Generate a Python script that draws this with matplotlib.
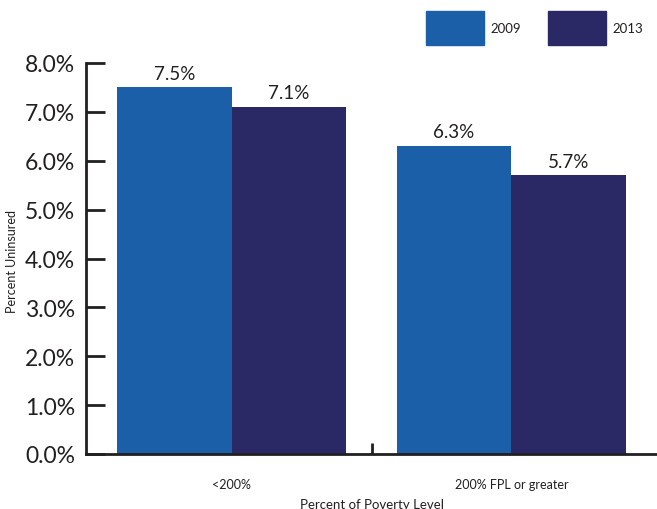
import matplotlib.pyplot as plt
import numpy as np

categories = ["<200%", "200% FPL or greater"]
years = ["2009", "2013"]
uninsured_2009 = [7.5, 6.3]
uninsured_2013 = [7.1, 5.7]
value_labels_2009 = ["7.5%", "6.3%"]
value_labels_2013 = ["7.1%", "5.7%"]
y_ticks = [0, 1, 2, 3, 4, 5, 6, 7, 8]
y_tick_labels = ["0.0%", "1.0%", "2.0%", "3.0%", "4.0%", "5.0%", "6.0%", "7.0%", "8.0%"]

c2009 = "#1a5fa8"
c2013 = "#2a2966"
dark = "#231f20"

plt.rcParams["font.family"] = ["Lato", "DejaVu Sans"]

fig = plt.figure(figsize=(6.57, 5.10), dpi=100)
ax = fig.add_axes([86 / 657, 55 / 510, 571 / 657, 391 / 510])

x = np.arange(len(categories))
w = 0.41
b1 = ax.bar(x - w / 2, uninsured_2009, w, color=c2009, label=years[0])
b2 = ax.bar(x + w / 2, uninsured_2013, w, color=c2013, label=years[1])

for bars, labels in ((b1, value_labels_2009), (b2, value_labels_2013)):
    for bar, lab in zip(bars, labels):
        ax.text(bar.get_x() + bar.get_width() / 2, bar.get_height() + 0.12, lab,
                ha="center", va="bottom", fontsize=13.5, color=dark)

ax.set_xlim(-0.521, 1.521)
ax.set_ylim(0, 8)
ax.set_yticks(y_ticks)
ax.set_yticklabels(y_tick_labels, fontsize=16.5, color=dark)
ax.set_xticks(x)
ax.set_xticklabels(categories, fontsize=9, color=dark)
ax.set_xticks([0.5], minor=True)
ax.tick_params(axis="x", which="major", length=0, pad=17)
ax.tick_params(axis="x", which="minor", direction="in", length=8, width=2, color=dark)
ax.tick_params(axis="y", direction="in", length=14, width=2, color=dark, pad=8)

for side in ("top", "right"):
    ax.spines[side].set_visible(False)
for side in ("left", "bottom"):
    ax.spines[side].set_linewidth(2)
    ax.spines[side].set_color(dark)

ax.set_xlabel("Percent of Poverty Level", fontsize=9.5, color=dark, labelpad=6)
fig.text(12 / 657, 1 - 262 / 510, "Percent Uninsured", rotation=90, fontsize=9,
         color=dark, ha="center", va="center")

# legend boxes sit above the plot area in figure coordinates
for x0, col, yr in ((426, c2009, years[0]), (548, c2013, years[1])):
    fig.patches.append(plt.Rectangle((x0 / 657, 1 - 46 / 510), 58 / 657, 34 / 510,
                                     transform=fig.transFigure, color=col))
    fig.text((x0 + 64) / 657, 1 - 29 / 510, yr, fontsize=9.5, color=dark, va="center")

fig.savefig("out.png", dpi=100)
